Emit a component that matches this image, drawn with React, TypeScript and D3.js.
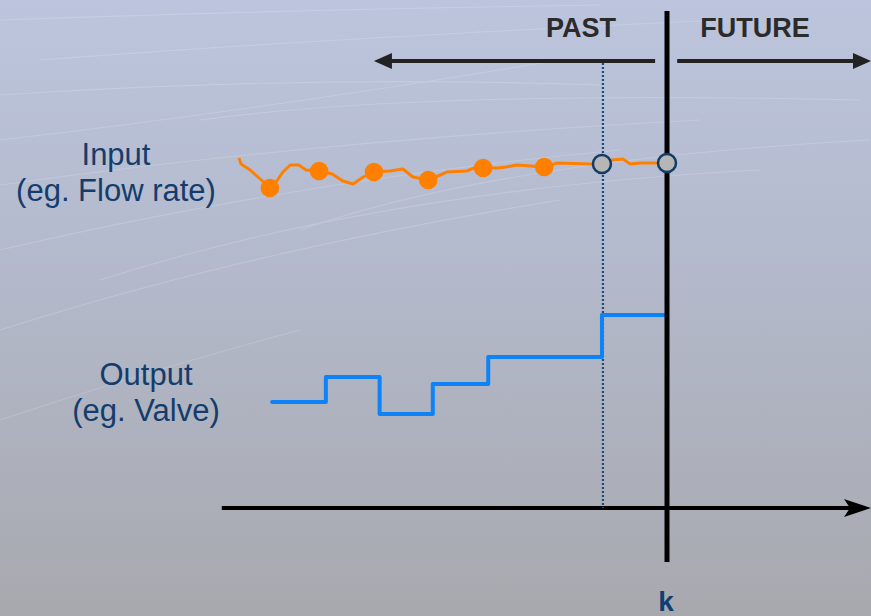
import React from "react";
import * as d3 from "d3";

// ---- data (time relative to step k = 0, value in signal units) ----
const inputTimes = [-7.566, -7.53, -7.37, -7.23, -7.11, -7.02, -6.91, -6.79, -6.66, -6.51, -6.38, -6.15, -5.92, -5.73, -5.55, -5.37, -5.18, -4.9, -4.67, -4.49, -4.22, -4.01, -3.89, -3.54, -3.41, -3.25, -2.99, -2.85, -2.65, -2.17, -1.94, -1.36, -1.17, -0.97, -0.78, -0.65, -0.48, -0.25, 0];
const inputValues = [7.0, 6.88, 6.76, 6.62, 6.5, 6.4, 6.52, 6.72, 6.86, 6.86, 6.76, 6.74, 6.68, 6.54, 6.48, 6.62, 6.72, 6.74, 6.78, 6.62, 6.56, 6.66, 6.72, 6.74, 6.8, 6.8, 6.8, 6.82, 6.86, 6.82, 6.9, 6.88, 6.88, 6.96, 6.98, 6.88, 6.9, 6.9, 6.9];
const sampleTimes = [-7.02, -6.15, -5.18, -4.22, -3.25, -2.17];
const sampleValues = [6.4, 6.74, 6.72, 6.56, 6.8, 6.82];
const openTimes = [-1.15, 0];
const openValues = [6.88, 6.9];
const outputTimes = [-6.98, -6.03, -5.08, -4.14, -3.16, -1.15, -0.05];
const outputValues = [2.12, 2.62, 1.88, 2.48, 3.02, 3.86, 3.86];
const pastTime = -1.15;
const labels = { past: "PAST", future: "FUTURE", k: "k" };
const inputLabel = ["Input", "(eg. Flow rate)"];
const outputLabel = ["Output", "(eg. Valve)"];

const W = 871;
const H = 616;

export default function App() {
  const x = d3.scaleLinear().domain([-7, 0]).range([271, 667]);
  const y = d3.scaleLinear().domain([0, 10]).range([508, 8]);

  const inputLine = d3
    .line<number>()
    .x((_, i) => x(inputTimes[i]))
    .y((d) => y(d))(inputValues) as string;

  const outputLine = d3
    .line<number>()
    .x((_, i) => x(outputTimes[i]))
    .y((d) => y(d))
    .curve(d3.curveStepAfter)(outputValues) as string;

  const axisY = y(0);
  const kX = x(0);
  const arrowY = y(8.94);
  const axisStart = x(-7.87);

  // background streaks
  const streakDefs = [
    [0, 95, 300, 75, 600, 85],
    [0, 140, 260, 110, 560, 60],
    [0, 185, 320, 140, 700, 120],
    [0, 250, 300, 180, 620, 150],
    [0, 330, 250, 250, 560, 200],
    [40, 60, 300, 40, 720, 20],
    [0, 20, 280, 10, 600, 5],
    [100, 280, 380, 190, 760, 170],
    [0, 420, 150, 370, 300, 330],
    [200, 120, 420, 90, 860, 100],
    [300, 230, 500, 160, 870, 140],
  ];
  const streaks = streakDefs.map((s) => `M${s[0]},${s[1]} Q${s[2]},${s[3]} ${s[4]},${s[5]}`);

  const regFont = "'Liberation Sans', Arial, sans-serif";

  return (
    <svg
      width={W}
      height={H}
      style={{ position: "absolute", left: 0, top: 0, display: "block" }}
      xmlns="http://www.w3.org/2000/svg"
    >
      <defs>
        <linearGradient id="bg" x1="0" y1="0" x2="0" y2="1">
          <stop offset="0" stopColor="#bcc5dd" />
          <stop offset="0.45" stopColor="#b3b9cb" />
          <stop offset="1" stopColor="#a8a9ae" />
        </linearGradient>
      </defs>
      <rect x={0} y={0} width={W} height={H} fill="url(#bg)" />
      <g fill="none" stroke="#ffffff" strokeWidth={1.1} opacity={0.16}>
        {streaks.map((p, i) => (
          <path key={i} d={p} />
        ))}
      </g>

      {/* labels */}
      <g fontFamily={regFont} fontSize={31} fill="#143c6c" textAnchor="middle">
        <text x={116} y={165}>{inputLabel[0]}</text>
        <text x={116} y={201}>{inputLabel[1]}</text>
        <text x={146} y={385}>{outputLabel[0]}</text>
        <text x={146} y={421}>{outputLabel[1]}</text>
      </g>
      <g fontFamily={regFont} fontSize={27} fontWeight="bold" fill="#2b2b2b" textAnchor="middle">
        <text x={581} y={37}>{labels.past}</text>
        <text x={755} y={37}>{labels.future}</text>
      </g>
      <text
        x={kX - 1}
        y={611}
        fontFamily={regFont}
        fontSize={28}
        fontWeight="bold"
        fill="#0f3e72"
        textAnchor="middle"
      >
        {labels.k}
      </text>

      {/* horizontal time axis */}
      <line x1={axisStart} x2={W - 20} y1={axisY} y2={axisY} stroke="#000" strokeWidth={4} />
      <path
        d={`M${W},${axisY} L${W - 27},${axisY - 9} L${W - 21},${axisY} L${W - 27},${axisY + 9} Z`}
        fill="#000"
      />

      {/* PAST / FUTURE arrows */}
      <line x1={x(-0.21)} x2={x(-5.18) + 12} y1={arrowY} y2={arrowY} stroke="#222" strokeWidth={4} />
      <path
        d={`M${x(-5.18)},${arrowY} L${x(-5.18) + 18},${arrowY - 8} L${x(-5.18) + 18},${arrowY + 8} Z`}
        fill="#222"
      />
      <line x1={x(0.18)} x2={W - 12} y1={arrowY} y2={arrowY} stroke="#222" strokeWidth={4} />
      <path
        d={`M${W},${arrowY} L${W - 18},${arrowY - 8} L${W - 18},${arrowY + 8} Z`}
        fill="#222"
      />

      {/* dotted past sample line */}
      <line
        x1={x(pastTime) + 1}
        x2={x(pastTime) + 1}
        y1={arrowY + 2}
        y2={axisY}
        stroke="#1b4a80"
        strokeWidth={2.2}
        strokeDasharray="2,2"
      />

      {/* output step line */}
      <path d={outputLine} fill="none" stroke="#0d83f7" strokeWidth={4} strokeLinejoin="round" strokeLinecap="round" />

      {/* vertical k line */}
      <line x1={kX} x2={kX} y1={y(9.94)} y2={y(-1.08)} stroke="#000" strokeWidth={5} />

      {/* input line */}
      <path d={inputLine} fill="none" stroke="#ff8000" strokeWidth={3} strokeLinejoin="round" />
      {sampleValues.map((v, i) => (
        <circle key={i} cx={x(sampleTimes[i])} cy={y(v)} r={9.3} fill="#ff8000" />
      ))}
      {openValues.map((v, i) => (
        <circle key={"o" + i} cx={x(openTimes[i])} cy={y(v)} r={9} fill="#b6b6b6" stroke="#123b66" strokeWidth={2.5} />
      ))}
    </svg>
  );
}
